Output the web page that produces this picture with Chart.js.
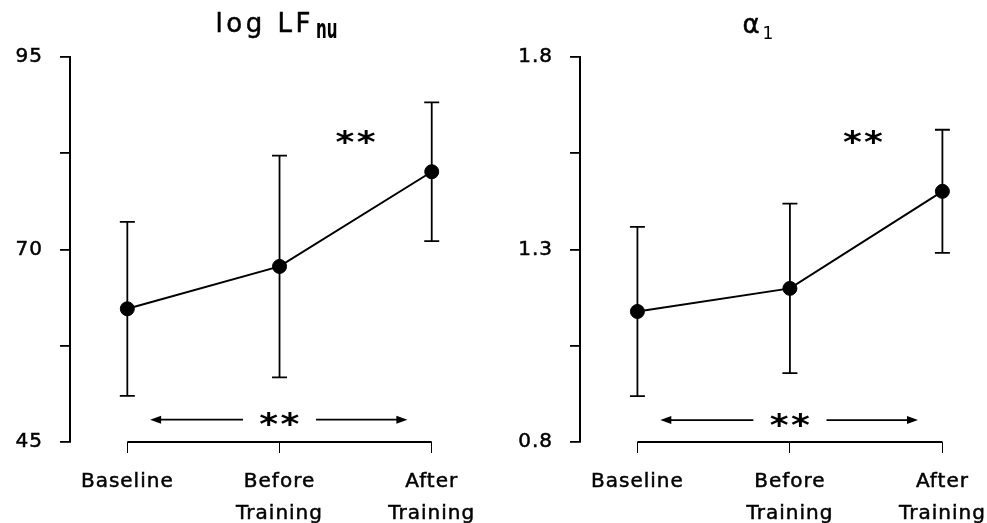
<!DOCTYPE html>
<html><head><meta charset="utf-8">
<script src="https://cdn.jsdelivr.net/npm/chart.js@4"></script>
<style>
html,body{margin:0;padding:0;background:#fff;}
#wrap{position:relative;width:987px;height:523px;background:#fff;}
canvas{position:absolute;top:0;}
</style></head><body>
<div id="wrap"><canvas id="c1" width="493" height="523" style="left:0"></canvas><canvas id="c2" width="494" height="523" style="left:493px"></canvas></div>
<script>
// ---- data ----
const categories = [['Baseline'], ['Before', 'Training'], ['After', 'Training']];
const lfMean = [62.3, 67.8, 80.1];
const lfErr = [11.3, 14.4, 9.0];
const lfTicks = [45, 57.5, 70, 82.5, 95];
const lfTickLabels = ['45', '', '70', '', '95'];
const a1Mean = [1.139, 1.199, 1.451];
const a1Err = [0.22, 0.22, 0.16];
const a1Ticks = [0.8, 1.05, 1.3, 1.55, 1.8];
const a1TickLabels = ['0.8', '', '1.3', '', '1.8'];
const sigMark = '**';

const FONT = '"DejaVu Sans", sans-serif';

function drawStars(ctx, cx, cy) {
  ctx.save();
  ctx.font = 'bold 30px ' + FONT;
  ctx.letterSpacing = '2px';
  ctx.textAlign = 'left';
  ctx.textBaseline = 'alphabetic';
  ctx.fillStyle = '#000';
  const m = ctx.measureText(sigMark);
  const sx = 1.2;
  const w = (m.actualBoundingBoxRight + m.actualBoundingBoxLeft);
  ctx.translate(cx - (w * sx) / 2 + m.actualBoundingBoxLeft * sx,
                cy + (m.actualBoundingBoxAscent - m.actualBoundingBoxDescent) / 2);
  ctx.scale(sx, 1);
  ctx.fillText(sigMark, 0, 0);
  ctx.restore();
}

function arrowHead(ctx, x, y, dir) {
  ctx.beginPath();
  ctx.moveTo(x, y);
  ctx.lineTo(x - dir * 11, y - 4);
  ctx.lineTo(x - dir * 11, y + 4);
  ctx.closePath();
  ctx.fill();
}

const decor = {
  id: 'decor',
  beforeDraw(chart) { chart.ctx.letterSpacing = '1px'; },
  beforeDatasetsDraw(chart, args, o) {
    const ctx = chart.ctx, xs = chart.scales.x, ys = chart.scales.y, ca = chart.chartArea;
    ctx.save();
    ctx.letterSpacing = '0px';
    ctx.strokeStyle = '#000';
    ctx.fillStyle = '#000';
    ctx.lineWidth = 1.8;
    o.mean.forEach((m, i) => {
      const px = xs.getPixelForValue(i);
      const top = ys.getPixelForValue(m + o.err[i]);
      const bot = ys.getPixelForValue(m - o.err[i]);
      ctx.beginPath();
      ctx.moveTo(px, top); ctx.lineTo(px, bot);
      ctx.moveTo(px - 7.5, top); ctx.lineTo(px + 7.5, top);
      ctx.moveTo(px - 7.5, bot); ctx.lineTo(px + 7.5, bot);
      ctx.stroke();
    });
    // bottom category axis line
    ctx.lineWidth = 2;
    ctx.beginPath();
    ctx.moveTo(xs.getPixelForValue(0), ca.bottom);
    ctx.lineTo(xs.getPixelForValue(o.mean.length - 1), ca.bottom);
    ctx.stroke();
    // significance arrow
    const ay = ys.getPixelForValue(o.arrowY);
    ctx.lineWidth = 1.8;
    const l0 = xs.getPixelForValue(o.arrowL[0]), l1 = xs.getPixelForValue(o.arrowL[1]);
    const r0 = xs.getPixelForValue(o.arrowR[0]), r1 = xs.getPixelForValue(o.arrowR[1]);
    ctx.beginPath();
    ctx.moveTo(l0 + 8, ay); ctx.lineTo(l1, ay);
    ctx.moveTo(r0, ay); ctx.lineTo(r1 - 8, ay);
    ctx.stroke();
    arrowHead(ctx, l0, ay, -1);
    arrowHead(ctx, r1, ay, 1);
    drawStars(ctx, xs.getPixelForValue(o.starBottomX), ay);
    drawStars(ctx, xs.getPixelForValue(o.starTop[0]), ys.getPixelForValue(o.starTop[1]));
    // title with subscript
    const t = o.title;
    ctx.textBaseline = 'alphabetic';
    ctx.textAlign = 'left';
    ctx.font = t.mainFont;
    ctx.letterSpacing = t.mainSpacing;
    const wMain = ctx.measureText(t.main).width;
    ctx.font = t.subFont;
    ctx.letterSpacing = '0px';
    const wSub = ctx.measureText(t.sub).width * t.subScale;
    const cx = xs.getPixelForValue(t.x);
    const start = cx - (wMain + t.gap + wSub) / 2;
    ctx.font = t.mainFont;
    ctx.letterSpacing = t.mainSpacing;
    ctx.strokeStyle = '#000';
    ctx.lineWidth = 0.5;
    ctx.fillText(t.main, start, t.baseline);
    ctx.strokeText(t.main, start, t.baseline);
    ctx.letterSpacing = '0px';
    ctx.font = t.subFont;
    ctx.save();
    ctx.translate(start + wMain + t.gap, t.baseline + t.subDrop);
    ctx.scale(t.subScale, 1);
    ctx.fillText(t.sub, 0, 0);
    ctx.restore();
    ctx.restore();
  }
};

function makeChart(id, p) {
  return new Chart(document.getElementById(id), {
    type: 'line',
    data: {
      datasets: [{
        data: p.mean.map((v, i) => ({ x: i, y: v })),
        borderColor: '#000',
        borderWidth: 2,
        pointRadius: 7,
        pointBackgroundColor: '#000',
        pointBorderColor: '#000',
        pointBorderWidth: 1,
        tension: 0,
        fill: false
      }]
    },
    options: {
      responsive: false,
      animation: false,
      devicePixelRatio: 1,
      layout: { padding: { top: 57, right: p.padRight, left: 0, bottom: 0 } },
      plugins: {
        legend: { display: false },
        tooltip: { enabled: false },
        decor: {
          mean: p.mean, err: p.err, arrowY: p.arrowY,
          arrowL: [0.15, 0.76], arrowR: [1.24, 1.84], starBottomX: 1.0,
          starTop: p.starTop, title: p.title
        }
      },
      scales: {
        x: {
          type: 'linear',
          min: -0.3766,
          max: p.xMax,
          afterBuildTicks: s => { s.ticks = categories.map((c, i) => ({ value: i })); },
          afterFit: s => { s.height = 81; s.paddingLeft = 0; s.paddingRight = 0; },
          border: { display: false },
          grid: { drawOnChartArea: false, drawTicks: true, tickLength: 11, color: '#000', lineWidth: 1 },
          ticks: {
            autoSkip: false, maxRotation: 0, padding: 13, color: '#000',
            textStrokeColor: '#000', textStrokeWidth: 0.5,
            font: { family: FONT, size: 20, lineHeight: '32px' },
            callback: v => categories[v]
          }
        },
        y: {
          type: 'linear',
          min: p.ticks[0],
          max: p.ticks[p.ticks.length - 1],
          afterBuildTicks: s => { s.ticks = p.ticks.map(v => ({ value: v })); },
          afterFit: s => { s.width = p.yWidth; },
          border: { display: true, color: '#000', width: 2 },
          grid: { drawOnChartArea: false, drawTicks: true, tickLength: 10, color: '#000', lineWidth: 1.8 },
          ticks: {
            padding: 17, color: '#000',
            textStrokeColor: '#000', textStrokeWidth: 0.5,
            font: { family: FONT, size: 20 },
            callback: (v, i) => p.labels[i]
          }
        }
      }
    },
    plugins: [decor]
  });
}

makeChart('c1', {
  mean: lfMean, err: lfErr, ticks: lfTicks, labels: lfTickLabels,
  yWidth: 70, padRight: 3, xMax: 2.35,
  arrowY: 47.9, starTop: [1.5, 84.6],
  title: { main: 'log LF', sub: 'nu', x: 0.98, baseline: 32, subDrop: 6, gap: 2,
    mainFont: '26px ' + FONT, mainSpacing: '3.5px', subFont: 'bold 26px ' + FONT, subScale: 0.58 }
});
makeChart('c2', {
  mean: a1Mean, err: a1Err, ticks: a1Ticks, labels: a1TickLabels,
  yWidth: 87, padRight: 4, xMax: 2.24,
  arrowY: 0.857, starTop: [1.48, 1.592],
  title: { main: 'α', sub: '1', x: 0.79, baseline: 33, subDrop: 6, gap: 3,
    mainFont: '26px ' + FONT, mainSpacing: '0px', subFont: '17px ' + FONT, subScale: 1 }
});
</script>
</body></html>
